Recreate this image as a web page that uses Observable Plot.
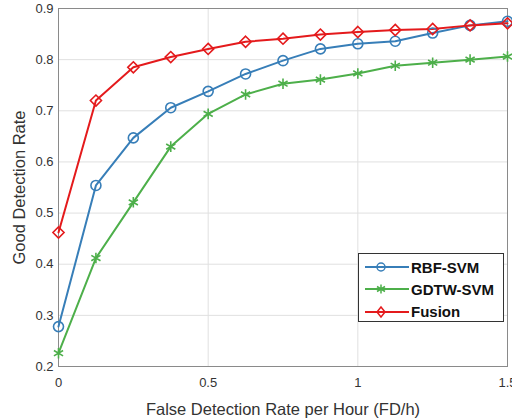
<!DOCTYPE html>
<html><head><meta charset="utf-8">
<script src="https://cdn.jsdelivr.net/npm/d3@7"></script>
<script src="https://cdn.jsdelivr.net/npm/@observablehq/plot@0.6"></script>
<style>
body{margin:0;background:#fff;font-family:"Liberation Sans",Arial,sans-serif;}
#wrap{position:relative;width:512px;height:419px;}
#legend{position:absolute;left:358px;top:253px;width:146px;height:69px;box-sizing:border-box;border:1px solid #333;background:#fff;}
.row{position:absolute;left:0;height:20px;display:flex;align-items:center;}
.row span{font-weight:bold;font-size:15px;color:#111;margin-left:2px;}
</style></head>
<body><div id="wrap"><div id="chart"></div>
<div id="legend"></div></div>
<script>
const xs = [0, 0.125, 0.25, 0.375, 0.5, 0.625, 0.75, 0.875, 1.0, 1.125, 1.25, 1.375, 1.5];
const rbf = [0.278, 0.554, 0.647, 0.706, 0.738, 0.772, 0.798, 0.821, 0.831, 0.836, 0.852, 0.867, 0.875];
const gdtw = [0.226, 0.412, 0.521, 0.630, 0.694, 0.732, 0.753, 0.761, 0.773, 0.788, 0.794, 0.800, 0.806];
const fusion = [0.462, 0.720, 0.785, 0.805, 0.821, 0.835, 0.841, 0.849, 0.854, 0.858, 0.860, 0.867, 0.871];
const seriesNames = ["RBF-SVM", "GDTW-SVM", "Fusion"];
const seriesColors = ["#377eb8", "#4daf4a", "#e41a1c"];
const seriesSymbols = ["circle", "asterisk", "diamond2"];
const xTicks = [0, 0.5, 1, 1.5];
const yTicks = [0.2, 0.3, 0.4, 0.5, 0.6, 0.7, 0.8, 0.9];
const xLabel = "False Detection Rate per Hour (FD/h)";
const yLabel = "Good Detection Rate";

const values = [rbf, gdtw, fusion];
const data = [];
seriesNames.forEach((s, i) => xs.forEach((x, j) => data.push({series: s, x, y: values[i][j]})));

const font = '"Liberation Sans", Arial, sans-serif';
const chart = Plot.plot({
  width: 512, height: 419,
  marginLeft: 58, marginRight: 5, marginTop: 8, marginBottom: 53,
  style: {fontFamily: font, fontSize: "13px", color: "#333", background: "#fff"},
  x: {domain: [0, 1.5]},
  y: {domain: [0.2, 0.9]},
  color: {domain: seriesNames, range: seriesColors},
  symbol: {domain: seriesNames, range: seriesSymbols},
  marks: [
    Plot.gridX(xTicks, {stroke: "#e0e0e0", strokeOpacity: 1}),
    Plot.gridY(yTicks, {stroke: "#e0e0e0", strokeOpacity: 1}),
    Plot.frame({stroke: "#8a8a8a"}),
    Plot.axisX({ticks: xTicks, tickFormat: d => String(d), tickSize: 0, tickPadding: 11, fontSize: 13, fill: "#333", label: null}),
    Plot.axisY({ticks: yTicks, tickFormat: d3.format(".1f"), tickSize: 0, tickPadding: 5, fontSize: 13, fill: "#333", label: null}),
    Plot.text([xLabel], {text: d => d, frameAnchor: "bottom", dy: 43, fontSize: 16.5, fill: "#333", textAnchor: "middle", lineAnchor: "middle"}),
    Plot.text([yLabel], {text: d => d, frameAnchor: "left", dx: -38.5, rotate: -90, fontSize: 16.5, fill: "#333", textAnchor: "middle", lineAnchor: "middle"}),
    Plot.line(data, {x: "x", y: "y", z: "series", stroke: "series", strokeWidth: 2}),
    Plot.dot(data, {x: "x", y: "y", stroke: "series", symbol: "series", fill: "none", r: 5, strokeWidth: 1.6})
  ]
});
document.getElementById("chart").appendChild(chart);

// Legend
const lg = document.getElementById("legend");
const shapes = {
  circle: '<circle cx="22" cy="10" r="4" fill="none" stroke-width="1.5"/>',
  asterisk: '<path d="M22,5.5V14.5M18,7.5L26,12.5M18,12.5L26,7.5" fill="none" stroke-width="1.5"/>',
  diamond2: '<path d="M22,5L26,10L22,15L18,10Z" fill="none" stroke-width="1.5"/>'
};
seriesNames.forEach((s, i) => {
  const row = document.createElement("div");
  row.className = "row";
  row.style.top = (3 + i * 22.3) + "px";
  row.innerHTML = `<svg width="50" height="20"><g stroke="${seriesColors[i]}"><line x1="6" x2="50" y1="10" y2="10" stroke-width="2"/>${shapes[seriesSymbols[i]]}</g></svg><span>${s}</span>`;
  lg.appendChild(row);
});
</script></body></html>
